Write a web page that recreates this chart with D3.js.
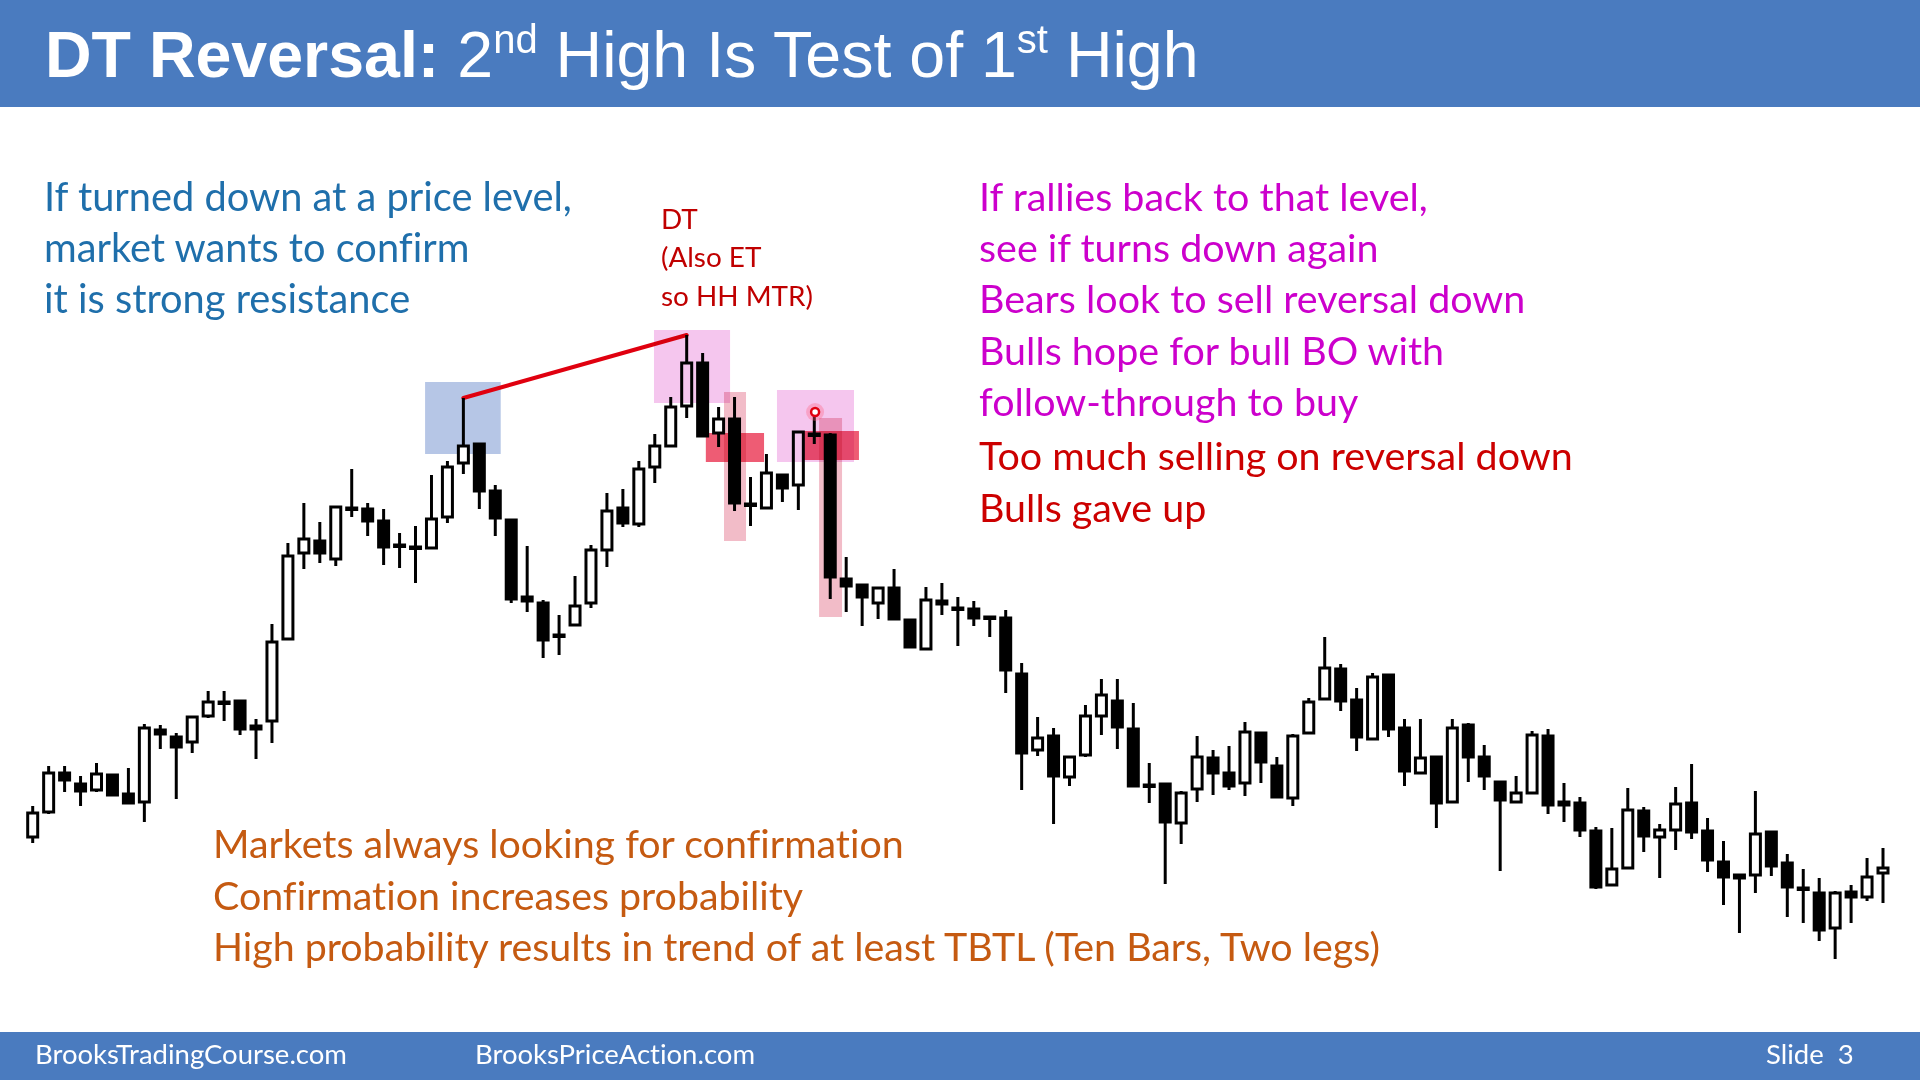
<!DOCTYPE html>
<html><head><meta charset="utf-8">
<script src="https://cdn.jsdelivr.net/npm/d3@7"></script>
<style>body{margin:0;background:#fff}svg{display:block}text{font-variant-ligatures:none}</style>
</head><body>
<svg id="c" width="1920" height="1080"></svg>
<script>
// ---------- DATA (prices) ----------
const opens = [26.3,28.8,32.7,31.6,31.0,32.5,30.6,29.8,37.0,36.3, 35.8,38.4,39.8,39.9,37.1,37.9,46.1,54.7,55.9,54.1, 59.2,59.1,57.9,55.5,55.3,55.2,58.3,63.7,65.6,60.9, 58.0,50.3,49.7,46.5,47.5,49.7,55.0,59.2,57.6,63.3, 65.4,69.4,73.7,66.7,68.1,59.6,59.2,62.5,61.5,66.6, 66.5,52.1,51.5,49.7,51.2,48.0,45.1,49.9,49.2,49.1, 48.3,48.2,42.6,35.0,36.4,32.3,34.5,38.4,39.9,37.1, 31.5,31.6,27.7,31.1,34.2,32.7,31.7,36.7,33.4,30.2, 36.7,40.1,43.1,40.0,36.1,42.5,37.2,32.7,34.3,29.8, 37.5,34.3,31.8,29.8,30.7,36.4,29.8,29.7,26.9,21.5, 23.2,28.9,26.3,27.0,29.7,26.9,23.8,22.5,22.5,26.8, 23.7,21.2,20.7,17.2,20.8,20.3,22.7];
const highs = [29.4,33.4,33.4,32.4,33.7,32.6,33.2,37.6,37.5,36.7, 38.4,40.9,40.9,40.0,38.1,47.6,55.7,59.7,57.8,59.4, 63.1,59.7,59.1,56.7,57.4,62.5,63.9,70.2,65.6,61.5, 58.0,55.4,50.0,48.5,52.4,55.5,60.7,61.1,63.9,66.6, 70.3,76.5,74.7,69.3,70.3,62.3,64.6,62.5,66.8,68.3, 66.7,54.3,51.6,51.3,53.1,48.1,51.3,51.7,50.3,49.9, 48.4,49.0,43.7,38.3,37.2,34.4,39.5,42.1,42.1,39.7, 33.7,31.6,30.9,36.4,35.0,35.4,37.8,36.8,34.3,36.6, 40.2,46.3,43.6,41.2,42.7,42.6,38.1,38.1,34.3,38.1, 37.7,35.5,31.8,32.4,36.9,37.1,31.7,30.3,27.3,27.2, 31.2,29.3,27.6,31.3,33.6,28.2,25.9,22.5,30.9,26.9, 24.6,23.1,22.2,20.9,21.5,24.2,25.2];
const lows = [25.7,28.6,30.8,29.4,30.8,30.4,29.6,27.8,35.1,30.1, 34.7,38.2,37.9,36.5,34.1,35.7,46.0,53.1,53.7,53.4, 58.3,56.4,53.5,53.2,51.7,55.1,57.7,62.6,59.1,56.4, 49.7,48.8,44.2,44.5,47.5,49.2,53.3,57.3,57.3,61.7, 65.3,68.2,66.3,65.3,58.9,57.4,59.1,59.8,59.0,65.6, 50.1,48.8,47.4,48.1,48.0,45.2,45.0,48.5,45.4,47.4, 46.3,40.7,31.0,34.4,27.6,31.4,34.3,36.5,35.1,31.3, 29.7,21.6,25.6,29.8,30.5,31.0,30.4,31.7,30.2,29.4, 36.6,40.0,38.9,34.9,36.0,36.3,31.4,32.6,27.2,29.7, 31.8,31.0,22.9,29.7,30.6,28.6,27.8,26.3,21.1,21.4, 23.1,24.8,22.2,25.0,26.1,22.8,19.5,16.7,20.7,22.4, 18.3,17.7,15.9,14.1,17.7,19.9,19.7];
const closes = [28.7,32.7,32.0,30.9,32.6,30.5,29.7,37.2,36.6,35.3, 38.3,39.8,39.7,37.1,37.4,45.8,54.4,56.1,54.7,59.3, 59.1,57.9,55.3,55.4,55.2,58.1,63.3,65.4,60.9,58.2, 50.1,49.9,46.0,46.4,49.4,55.0,58.9,57.7,63.1,65.4, 69.3,73.7,66.4,68.1,59.7,59.5,62.7,61.2,66.8,66.5, 52.3,51.4,50.3,51.2,48.1,45.3,50.0,49.6,49.1,48.2, 48.2,43.0,34.7,36.2,32.4,34.3,38.4,40.5,37.3,31.4, 31.4,27.8,30.7,34.3,32.7,31.4,36.8,33.8,30.3,36.4, 39.8,43.2,39.9,36.3,42.3,37.1,32.9,34.2,29.7,37.2, 34.3,32.4,30.0,30.7,36.5,29.5,29.5,27.0,21.3,23.1, 29.0,26.4,27.0,29.6,26.8,24.0,22.3,22.2,26.6,23.4, 21.3,21.1,17.0,20.7,20.3,22.3,23.2];

// annotation zones in bar-index / price units
const zones = [
  {kind:"blue",     i0:24.6,  i1:29.34, p0:64.6, p1:71.8},
  {kind:"pink",     i0:38.95, i1:43.72, p0:69.7, p1:77.0},
  {kind:"pink",     i0:46.66, i1:51.49, p0:63.8, p1:71.0},
  {kind:"lightred", i0:43.34, i1:44.72, p0:55.9, p1:70.8},
  {kind:"lightred", i0:49.3,  i1:50.74, p0:48.3, p1:68.2},
  {kind:"darkred",  i0:42.2,  i1:45.85, p0:63.8, p1:66.7},
  {kind:"darkred",  i0:48.23, i1:51.8,  p0:64.0, p1:66.9}
];
const dtLink = [27, 41];          // first high bar, second high bar
const marker = {i:49.05, p:68.8}; // red circle

const titleBold = "DT Reversal:";
const titleParts = [["2",""],["nd","sup"],[" High Is Test of 1",""],["st","sup"],[" High",""]];
const leftLines = ["If turned down at a price level,","market wants to confirm","it is strong resistance"];
const magentaLines = ["If rallies back to that level,","see if turns down again","Bears look to sell reversal down","Bulls hope for bull BO with","follow-through to buy"];
const redLines = ["Too much selling on reversal down","Bulls gave up"];
const bottomLines = ["Markets always looking for confirmation","Confirmation increases probability","High probability results in trend of at least TBTL (Ten Bars, Two legs)"];
const dtLines = ["DT","(Also ET","so HH MTR)"];
const footerLeft = ["BrooksTradingCourse.com","BrooksPriceAction.com"];
const footerRight = "Slide  3";

// ---------- DRAW ----------
const svg = d3.select("#c");
const W = 1920, H = 1080;
const BLUE = "#4a7bbf";
const FONT = "Lato, 'Open Sans', sans-serif";

svg.append("rect").attr("width",W).attr("height",H).attr("fill","#fff");
svg.append("rect").attr("x",0).attr("y",0).attr("width",W).attr("height",107).attr("fill",BLUE);
svg.append("rect").attr("x",0).attr("y",1032).attr("width",W).attr("height",48).attr("fill",BLUE);

const x = d3.scaleLinear().domain([0, opens.length-1]).range([32.7, 1883]);
const y = d3.scaleLinear().domain([20, 80]).range([900, 300]);

const candles = opens.map((o,i)=>({i, o, h:highs[i], l:lows[i], c:closes[i]}));

const zoneStyle = {
  blue:{fill:"#b6c6e6", blend:"normal"},
  pink:{fill:"#f5c6ee", blend:"multiply"},
  lightred:{fill:"#f2bcc8", blend:"multiply"},
  darkred:{fill:"#ee5c74", blend:"multiply"}
};

// blue zone under candles
const under = svg.append("g");
under.selectAll("rect").data(zones.filter(z=>z.kind==="blue")).join("rect")
  .attr("x",d=>x(d.i0)).attr("width",d=>x(d.i1)-x(d.i0))
  .attr("y",d=>y(d.p1)).attr("height",d=>y(d.p0)-y(d.p1))
  .attr("fill",d=>zoneStyle[d.kind].fill);

// red line between highs
svg.append("line")
  .attr("x1",x(dtLink[0])).attr("y1",y(highs[dtLink[0]]))
  .attr("x2",x(dtLink[1])).attr("y2",y(highs[dtLink[1]]))
  .attr("stroke","#e0000f").attr("stroke-width",4).attr("stroke-linecap","round");

const bodyW = 10;
const cg = svg.append("g");
cg.selectAll("line.w").data(candles).join("line").attr("class","w")
  .attr("x1",d=>x(d.i)).attr("x2",d=>x(d.i))
  .attr("y1",d=>y(d.h)).attr("y2",d=>y(d.l))
  .attr("stroke","#000").attr("stroke-width",3);
cg.selectAll("rect.b").data(candles).join("rect").attr("class","b")
  .attr("x",d=>x(d.i)-bodyW/2).attr("width",bodyW)
  .attr("y",d=>y(Math.max(d.o,d.c)))
  .attr("height",d=>Math.max(1.5, Math.abs(y(d.o)-y(d.c))))
  .attr("fill",d=>d.c>d.o?"#fff":"#000")
  .attr("stroke","#000").attr("stroke-width",3);

// translucent overlays
const over = svg.append("g");
over.selectAll("rect").data(zones.filter(z=>z.kind!=="blue")).join("rect")
  .attr("x",d=>x(d.i0)).attr("width",d=>x(d.i1)-x(d.i0))
  .attr("y",d=>y(d.p1)).attr("height",d=>y(d.p0)-y(d.p1))
  .attr("fill",d=>zoneStyle[d.kind].fill)
  .style("mix-blend-mode",d=>zoneStyle[d.kind].blend);

// red circle marker
svg.append("circle").attr("cx",x(marker.i)).attr("cy",y(marker.p)).attr("r",9)
  .attr("fill","#ff6080").attr("opacity",0.35);
svg.append("circle").attr("cx",x(marker.i)).attr("cy",y(marker.p)).attr("r",4)
  .attr("fill","#fff").attr("stroke","#e00010").attr("stroke-width",2.5);

// ---------- TEXT ----------
const title = svg.append("text").attr("x",45).attr("y",77)
  .attr("font-family","'Liberation Sans', Arial, sans-serif").attr("font-size",64.5).attr("fill","#fff");
title.append("tspan").attr("font-weight","bold").text(titleBold + " ");
let raised = false;
titleParts.forEach(([t,k])=>{
  const ts = title.append("tspan").text(t);
  if(k==="sup"){ ts.attr("font-size",40).attr("dy",-24); raised = true; }
  else if(raised){ ts.attr("dy",24); raised=false; }
});

function block(lines, x0, baselines, color, target, refIdx){
  const g = svg.append("g").attr("font-family",FONT).attr("fill",color);
  const ts = g.selectAll("text").data(lines).join("text")
    .attr("x",x0).attr("y",(d,i)=>baselines[i]).attr("font-size",100).text(d=>d);
  const w = ts.nodes()[refIdx].getComputedTextLength();
  const fs = 100*target/w;
  ts.attr("font-size",fs);
  return fs;
}
block(leftLines, 44, [211,262,313], "#1f6fab", 528, 0);
const fsR = block(redLines, 979, [470,522], "#cc0000", 594, 0);
const gm = svg.append("g").attr("font-family",FONT).attr("fill","#cc00cc");
gm.selectAll("text").data(magentaLines).join("text")
  .attr("x",979).attr("y",(d,i)=>[211,262,313,365,416][i]).attr("font-size",fsR).text(d=>d);
block(bottomLines, 213, [858,910,961], "#c55a11", 1167, 2);
block(dtLines, 661, [229,267,306], "#c00000", 152, 2);

const fg = svg.append("g").attr("font-family",FONT).attr("fill","#fff");
const fl = fg.selectAll("text.f").data(footerLeft).join("text").attr("class","f")
  .attr("x",(d,i)=>[35,475][i]).attr("y",1064).attr("font-size",100).text(d=>d);
const fw = fl.nodes()[0].getComputedTextLength();
const ffs = 100*312/fw;
fl.attr("font-size",ffs);
fg.append("text").attr("x",1766).attr("y",1064).attr("font-size",ffs)
  .style("white-space","pre").text(footerRight);
</script>
</body></html>
